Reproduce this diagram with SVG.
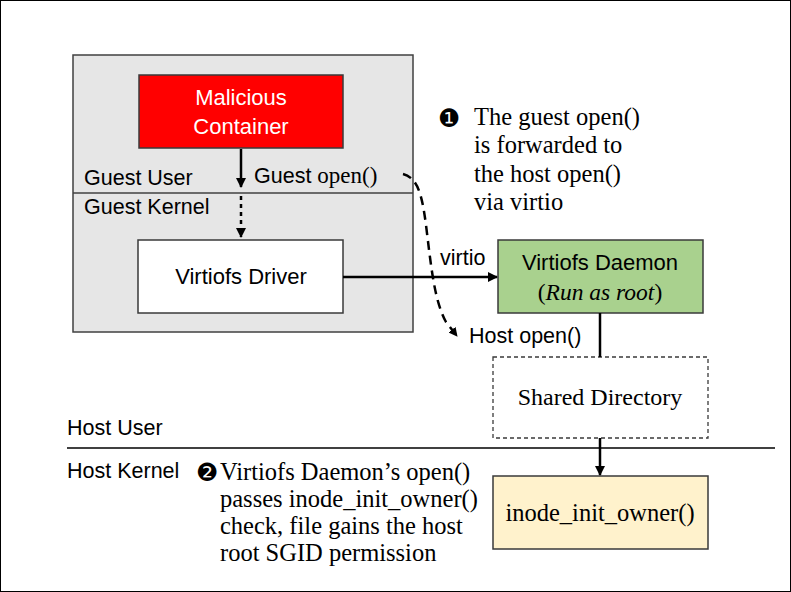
<svg xmlns="http://www.w3.org/2000/svg" width="791" height="592" viewBox="0 0 791 592">
<defs>
<style>
.sans{font-family:"Liberation Sans",Arial,sans-serif;font-size:21.5px;fill:#000}
.serif{font-family:"Liberation Serif","Times New Roman",serif;font-size:23.5px;fill:#000}
.note{font-family:"Liberation Serif","Times New Roman",serif;font-size:24.5px;fill:#000}
.box{stroke:#3a3a3a;stroke-width:1.5}
.conn{stroke:#000;stroke-width:2.5;fill:none}
.dingbat{font-family:"DejaVu Sans",sans-serif;font-size:25px;fill:#000}
</style>
<marker id="arr" viewBox="0 0 10 10" refX="9" refY="5" markerWidth="4" markerHeight="4" orient="auto" markerUnits="strokeWidth">
<path d="M0,0 L10,5 L0,10 z" fill="#000"/>
</marker>
<marker id="arrs" viewBox="0 0 10 10" refX="9" refY="5" markerWidth="3.6" markerHeight="3.6" orient="auto" markerUnits="strokeWidth">
<path d="M0,0 L10,5 L0,10 z" fill="#000"/>
</marker>
</defs>
<rect x="0.5" y="0.5" width="790" height="591" fill="#fff" stroke="#000" stroke-width="1"/>

<g id="guest-vm">
<rect x="73" y="55" width="340" height="277" fill="#e6e6e6" stroke="#404040" stroke-width="1.5"/>
<line x1="73" y1="193" x2="413" y2="193" stroke="#404040" stroke-width="1.5"/>
<text class="sans" x="84" y="185">Guest User</text>
<text class="sans" x="84" y="214">Guest Kernel</text>
</g>

<g id="malicious-container">
<rect class="box" x="139" y="75" width="204" height="73" fill="#ff0000"/>
<text class="sans" x="241" y="105" text-anchor="middle" style="fill:#fff;font-size:22px">Malicious</text>
<text class="sans" x="241" y="134" text-anchor="middle" style="fill:#fff;font-size:22px">Container</text>
</g>

<g id="virtiofs-driver">
<rect class="box" x="138" y="240" width="205" height="73" fill="#fff"/>
<text class="sans" x="241" y="284" text-anchor="middle" style="font-size:22px">Virtiofs Driver</text>
</g>

<g id="virtiofs-daemon">
<rect class="box" x="498" y="240" width="205" height="73" fill="#a9d18e"/>
<text class="sans" x="600" y="270" text-anchor="middle" style="font-size:22px">Virtiofs Daemon</text>
<text class="serif" x="600" y="300" text-anchor="middle">(<tspan font-style="italic">Run as root</tspan>)</text>
</g>

<g id="shared-directory">
<rect x="493" y="357" width="215" height="81" fill="#fff" stroke="#3a3a3a" stroke-width="1.3" stroke-dasharray="4 3"/>
<text class="serif" x="600" y="405" text-anchor="middle" style="font-size:24px">Shared Directory</text>
</g>

<g id="inode-init-owner">
<rect class="box" x="493" y="476" width="215" height="73" fill="#fff2cc"/>
<text class="serif" x="600" y="521" text-anchor="middle" style="font-size:24.5px">inode_init_owner()</text>
</g>

<g id="host-layers">
<line x1="67" y1="448" x2="775" y2="448" stroke="#000" stroke-width="1.3"/>
<text class="sans" x="67" y="435">Host User</text>
<text class="sans" x="67" y="478">Host Kernel</text>
</g>

<g id="connectors">
<line class="conn" x1="241" y1="149" x2="241" y2="187" marker-end="url(#arr)"/>
<line class="conn" x1="241" y1="196" x2="241" y2="237" stroke-dasharray="4 4" marker-end="url(#arr)"/>
<line class="conn" x1="343" y1="277" x2="497" y2="277" marker-end="url(#arr)"/>
<path class="conn" d="M403,174 C418,178 422,195 426,225 C431,265 434,300 446,322 L457,336" stroke-dasharray="9 6" marker-end="url(#arrs)"/>
<line class="conn" x1="600" y1="313" x2="600" y2="357"/>
<line class="conn" x1="600" y1="438" x2="600" y2="475" marker-end="url(#arr)"/>
<text class="sans" x="254" y="183">Guest <tspan style="font-family:'Liberation Serif','Times New Roman',serif;font-size:23px">open()</tspan></text>
<text class="sans" x="440" y="265">virtio</text>
<text class="sans" x="469" y="343">Host open()</text>
</g>

<g id="note-1">
<text class="dingbat" x="438" y="127">❶</text>
<text class="note" x="474" y="125">The guest open()</text>
<text class="note" x="474" y="153">is forwarded to</text>
<text class="note" x="474" y="182">the host open()</text>
<text class="note" x="474" y="210">via virtio</text>
</g>

<g id="note-2">
<text class="dingbat" x="196" y="481">❷</text>
<text class="note" x="220" y="480">Virtiofs Daemon’s open()</text>
<text class="note" x="220" y="507">passes inode_init_owner()</text>
<text class="note" x="220" y="534">check, file gains the host</text>
<text class="note" x="220" y="561">root SGID permission</text>
</g>
</svg>
